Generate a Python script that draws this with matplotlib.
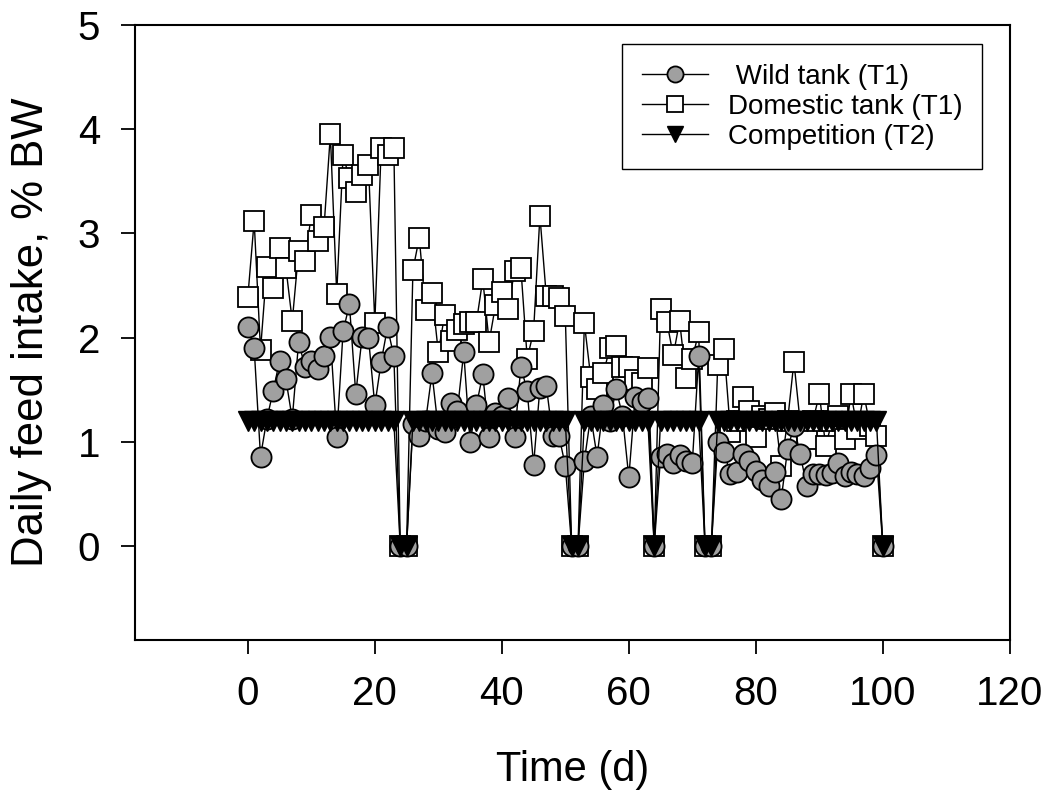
import numpy as np
import matplotlib
matplotlib.use("Agg")
import matplotlib.pyplot as plt

plt.rcParams['font.family'] = ['Liberation Sans', 'DejaVu Sans']

# days of the trial
days = list(range(0, 101))

# wild tank (T1), % BW
wild = [2.10, 1.90, 0.86, 1.22, 1.49, 1.78, 1.60, 1.22, 1.96, 1.72,
        1.78, 1.70, 1.82, 2.01, 1.05, 2.06, 2.32, 1.46, 2.01, 2.00,
        1.35, 1.77, 2.10, 1.82, 0.00, 0.00, 1.17, 1.06, 1.20, 1.66,
        1.12, 1.10, 1.37, 1.30, 1.86, 1.00, 1.35, 1.65, 1.05, 1.28,
        1.25, 1.42, 1.05, 1.72, 1.49, 0.78, 1.52, 1.54, 1.06, 1.06,
        0.77, 0.00, 0.00, 0.82, 1.25, 0.86, 1.35, 1.20, 1.51, 1.25,
        0.66, 1.43, 1.38, 1.42, 0.00, 0.86, 0.88, 0.80, 0.87, 0.82,
        0.80, 1.82, 0.00, 0.00, 1.00, 0.90, 0.69, 0.71, 0.88, 0.82,
        0.72, 0.63, 0.58, 0.71, 0.45, 0.93, 1.15, 0.88, 0.58, 0.69,
        0.69, 0.68, 0.70, 0.80, 0.67, 0.71, 0.69, 0.67, 0.75, 0.87,
        0.00]

# domestic tank (T1), % BW
domestic = [2.39, 3.12, 1.88, 2.68, 2.48, 2.86, 2.67, 2.16, 2.83, 2.74,
            3.18, 2.93, 3.06, 3.95, 2.42, 3.75, 3.53, 3.40, 3.56, 3.66,
            2.14, 3.82, 3.75, 3.82, 0.00, 0.00, 2.65, 2.96, 2.27, 2.43,
            1.86, 2.22, 1.97, 2.07, 2.13, 2.15, 2.15, 2.56, 1.96, 2.31,
            2.44, 2.28, 2.64, 2.67, 1.80, 2.06, 3.17, 2.40, 2.40, 2.38,
            2.21, 0.00, 0.00, 2.14, 1.62, 1.51, 1.66, 1.90, 1.92, 1.72,
            1.72, 1.59, 1.57, 1.71, 0.00, 2.28, 2.15, 1.83, 2.16, 1.61,
            1.80, 2.05, 0.00, 0.00, 1.74, 1.89, 1.10, 1.20, 1.43, 1.30,
            1.05, 1.25, 1.22, 1.28, 0.77, 1.20, 1.77, 1.18, 1.03, 1.20,
            1.46, 0.96, 1.20, 1.25, 1.03, 1.46, 1.12, 1.46, 1.15, 1.06,
            0.00]

# competition (T2), % BW
zero_days = [24, 25, 51, 52, 64, 72, 73, 100]
competition = [0.0 if d in zero_days else 1.2 for d in days]

fig = plt.figure(figsize=(10.53, 7.94), dpi=100)
ax = fig.add_axes([0.128, 0.194, 0.831, 0.7745])

ax.plot(days, wild, color='black', lw=1, marker='o', ms=14.5,
        mfc='#a0a0a0', mec='black', mew=1.3, label=' Wild tank (T1)', zorder=3)
ax.plot(days, domestic, color='black', lw=1, marker='s', ms=14,
        mfc='white', mec='black', mew=1.3, label='Domestic tank (T1)', zorder=2)
ax.plot(days, competition, color='black', lw=1, marker='v', ms=15,
        mfc='black', mec='black', mew=1, label='Competition (T2)', zorder=4)

ax.set_xlim(-17.8, 120)
ax.set_ylim(-0.9, 5)
ax.set_xticks(range(0, 121, 20))
ax.set_yticks(range(0, 6))

for sp in ax.spines.values():
    sp.set_linewidth(1.5)
ax.tick_params(direction='out', length=10, width=1.3, labelsize=29)
ax.tick_params(axis='x', pad=15)
ax.tick_params(axis='y', pad=15)

ax.set_xlabel('Time (d)', fontsize=30, labelpad=27)
ax.set_ylabel('Daily feed intake, % BW', fontsize=31.5)
ax.yaxis.set_label_coords(-0.095, 0.5)

leg = ax.legend(loc='upper right', bbox_to_anchor=(0.968, 0.969),
                borderaxespad=0, fontsize=20, handlelength=2.4,
                handletextpad=0.7, markerscale=0.8,
                fancybox=False, framealpha=1, edgecolor='black',
                labelspacing=0.15, borderpad=0.7)
leg.get_frame().set_linewidth(1)

fig.savefig('out.png', dpi=100)
